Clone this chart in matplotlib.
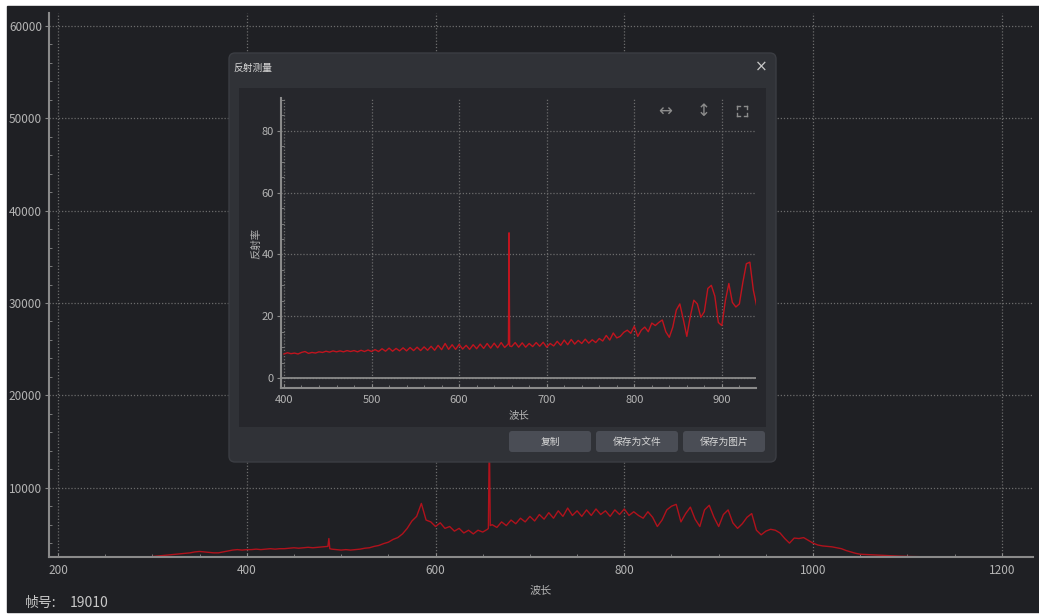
import numpy as np
import matplotlib
matplotlib.use("Agg")
import matplotlib.pyplot as plt
from matplotlib.patches import FancyBboxPatch, Rectangle
from matplotlib.ticker import MultipleLocator

plt.rcParams['font.family'] = ['Noto Sans CJK SC', 'DejaVu Sans']

# outer spectrum (counts), every 5 nm from 300 nm
outer_start = 300
outer_counts = [
    2550, 2600, 2650, 2700, 2750, 2800, 2850, 2900, 2950, 3050,   # 300-345
    3100, 3050, 3000, 2950, 2950, 3050, 3150, 3250, 3300, 3250,   # 350-395
    3300, 3300, 3350, 3300, 3350, 3400, 3350, 3400, 3400, 3450,   # 400-445
    3500, 3450, 3500, 3550, 3500, 3550, 3600, 3650, 3350, 3300,   # 450-495
    3250, 3300, 3250, 3300, 3350, 3450, 3500, 3650, 3750, 3950,   # 500-545
    4100, 4400, 4600, 5000, 5600, 6400, 6900, 8300, 6500, 6300,   # 550-595
    5800, 6200, 5600, 5800, 5300, 5600, 5100, 5400, 5000, 5400,   # 600-645
    5200, 5500, 6000, 5700, 6300, 5900, 6500, 6100, 6700, 6300,   # 650-695
    6900, 6400, 7100, 6600, 7300, 6700, 7500, 6900, 7800, 7000,   # 700-745
    7500, 6900, 7600, 7000, 7700, 7100, 7500, 6900, 7600, 7100,   # 750-795
    7700, 7000, 7400, 7000, 6700, 7400, 6800, 5800, 6500, 7600,   # 800-845
    8000, 8200, 6300, 7200, 7900, 6600, 5800, 7600, 8100, 6800,   # 850-895
    5800, 7100, 7600, 6200, 5600, 6100, 6800, 7200, 5400, 4900,   # 900-945
    5300, 5500, 5400, 5100, 4500, 4000, 4550, 4500, 4600, 4300,   # 950-995
    4000, 3800, 3700, 3650, 3600, 3500, 3400, 3200, 3050, 2900,   # 1000-1045
    2800, 2780, 2750, 2720, 2700, 2680, 2650, 2620, 2600, 2580,   # 1050-1095
    2560, 2550, 2540, 2530, 2520,                                 # 1100-1120
]
outer_peak_wl = [486, 487, 488, 656, 657, 658]
outer_peak_counts = [3650, 4500, 3400, 5600, 16000, 5900]

# reflectance, every 4 nm from 400 nm
refl_start = 400
refl_values = [
    7.8, 8.2, 7.9, 8.1, 7.8, 8.3, 8.6, 8.0, 8.3, 8.1,             # 400-436
    8.5, 8.3, 8.7, 8.4, 8.8, 8.5, 8.8, 8.5, 8.9, 8.6,             # 440-476
    8.9, 8.5, 9.0, 8.6, 9.1, 8.6, 9.2, 8.6, 9.5, 8.7,             # 480-516
    9.7, 8.7, 9.6, 8.8, 9.8, 8.8, 9.9, 8.9, 10.0, 8.9,            # 520-556
    10.1, 9.0, 10.3, 9.0, 10.6, 9.2, 11.2, 9.3, 10.8, 9.3,        # 560-596
    10.9, 9.4, 10.6, 9.3, 10.8, 9.5, 11.0, 9.6, 11.2, 9.7,        # 600-636
    11.3, 9.8, 11.5, 9.9, 11.0, 10.2, 11.5, 10.0, 11.4, 10.0,     # 640-676
    11.2, 10.2, 11.5, 10.3, 11.6, 10.0, 11.2, 10.4, 11.9, 10.6,   # 680-716
    12.3, 10.8, 12.5, 11.0, 12.2, 11.2, 12.6, 11.3, 12.4, 11.5,   # 720-756
    12.8, 12.0, 13.8, 12.3, 14.6, 13.0, 13.5, 14.8, 15.5, 14.5,   # 760-796
    16.8, 13.5, 15.5, 16.5, 15.0, 17.8, 17.0, 18.0, 18.8, 15.0,   # 800-836
    13.2, 16.5, 22.0, 24.0, 19.0, 13.5, 20.0, 25.2, 24.0, 19.7,   # 840-876
    21.5, 29.0, 30.0, 26.5, 18.0, 17.0, 25.0, 30.6, 24.5, 23.0,   # 880-916
    24.0, 31.0, 37.0, 37.5, 28.4, 23.0,                           # 920-940
]
refl_peak_wl = [656.3, 657.0, 657.7]
refl_peak_values = [11.0, 47.0, 10.4]

bg_dark = '#1f2024'
dialog_col = '#303237'
panel_col = '#26272c'
button_col = '#4a4d55'
text_col = '#b4b4b4'
axis_col = '#8a8a8a'
grid_col = '#6c6c6c'
red = '#b0121c'

outer_wl = outer_start + 5 * np.arange(len(outer_counts))
wl_all = np.concatenate([outer_wl, outer_peak_wl])
ct_all = np.concatenate([outer_counts, outer_peak_counts])
order = np.argsort(wl_all)
wl_all, ct_all = wl_all[order], ct_all[order]

refl_wl = refl_start + 4 * np.arange(len(refl_values))
rw_all = np.concatenate([refl_wl, refl_peak_wl])
rv_all = np.concatenate([refl_values, refl_peak_values])
order = np.argsort(rw_all)
rw_all, rv_all = rw_all[order], rv_all[order]

fig = plt.figure(figsize=(10.39, 6.15), dpi=100, facecolor='white')

# background window
ax_bg = fig.add_axes([0, 0, 1, 1], zorder=0)
ax_bg.set_xlim(0, 1039)
ax_bg.set_ylim(615, 0)
ax_bg.axis('off')
ax_bg.add_patch(Rectangle((7, 6), 1032, 606, color=bg_dark))


def style_axes(ax, fs):
    for s in ['top', 'right']:
        ax.spines[s].set_visible(False)
    for s in ['left', 'bottom']:
        ax.spines[s].set_color(axis_col)
        ax.spines[s].set_linewidth(1.5)
    ax.tick_params(which='both', colors=axis_col, labelcolor=text_col, labelsize=fs)
    ax.tick_params(axis='x', which='major', direction='in', length=3, pad=5)
    ax.tick_params(axis='x', which='minor', direction='in', length=2)
    ax.tick_params(axis='y', which='major', direction='out', length=3, pad=2)
    ax.tick_params(axis='y', which='minor', direction='in', length=2)
    ax.grid(True, which='major', color=grid_col, linestyle=(0, (1, 1.5)), linewidth=0.9)


# main spectrum chart
ax = fig.add_axes([49 / 1039, 1 - 557 / 615, 984 / 1039, 544 / 615], zorder=1)
ax.patch.set_alpha(0)
ax.plot(wl_all, ct_all, color=red, lw=1.0)
ax.set_xlim(190.5, 1233)
ax.set_ylim(2500, 61400)
ax.xaxis.set_major_locator(MultipleLocator(200))
ax.xaxis.set_minor_locator(MultipleLocator(50))
ax.yaxis.set_major_locator(MultipleLocator(10000))
ax.yaxis.set_minor_locator(MultipleLocator(2000))
style_axes(ax, 8.5)
ax.set_xlabel('波长', color=text_col, fontsize=8, labelpad=6)

# dialog and ui pieces, pixel coordinates
ui = fig.add_axes([0, 0, 1, 1], zorder=2)
ui.set_xlim(0, 1039)
ui.set_ylim(615, 0)
ui.axis('off')
ui.patch.set_alpha(0)
ui.add_patch(FancyBboxPatch((229, 53), 547, 409, boxstyle='round,pad=0,rounding_size=6',
                            facecolor=dialog_col, edgecolor='#3b3d43', lw=1))
ui.add_patch(Rectangle((239, 88), 527, 339, facecolor=panel_col, edgecolor='none'))
ui.text(233, 68, '反射测量', color='#d8d8d8', fontsize=7, va='center', ha='left')
ui.text(761, 67, '×', color='#c8c8c8', fontsize=11, va='center', ha='center',
        family=['DejaVu Sans'])

buttons = ['复制', '保存为文件', '保存为图片']
for i, lab in enumerate(buttons):
    x0 = 509 + i * 87
    ui.add_patch(FancyBboxPatch((x0, 431), 82, 21, boxstyle='round,pad=0,rounding_size=3',
                                facecolor=button_col, edgecolor='none'))
    ui.text(x0 + 41, 441.5, lab, color='#d8d8d8', fontsize=7, ha='center', va='center')

ui.text(25, 603, '帧号:', color='#c8c8c8', fontsize=10, va='center', ha='left')
ui.text(70, 603, '19010', color='#c8c8c8', fontsize=10, va='center', ha='left')

# reflectance chart
ax2 = fig.add_axes([281 / 1039, 1 - 388 / 615, 475 / 1039, 290 / 615], zorder=3)
ax2.patch.set_alpha(0)
ax2.plot(rw_all, rv_all, color='#c0141e', lw=1.0)
ax2.axhline(0, color=axis_col, lw=1.3)
ax2.set_xlim(396.6, 939)
ax2.set_ylim(-3.2, 90.6)
ax2.xaxis.set_major_locator(MultipleLocator(100))
ax2.xaxis.set_minor_locator(MultipleLocator(20))
ax2.yaxis.set_major_locator(MultipleLocator(20))
ax2.yaxis.set_minor_locator(MultipleLocator(5))
style_axes(ax2, 8)
ax2.set_xlabel('波长', color=text_col, fontsize=7.5, labelpad=4)
ax2.set_ylabel('反射率', color=text_col, fontsize=7.5, labelpad=0)

# toolbar icons on the reflectance chart
icon_col = '#8c8c8c'
ui.text(665, 112, '↔', color=icon_col, fontsize=12, ha='center', va='center',
        family=['DejaVu Sans'], zorder=5)
ui.text(704, 111, '↕', color=icon_col, fontsize=12, ha='center', va='center',
        family=['DejaVu Sans'], zorder=5)
cx, cy, r = 742, 111, 5
for sx in (-1, 1):
    for sy in (-1, 1):
        ui.plot([cx + sx * r, cx + sx * (r - 3)], [cy + sy * r, cy + sy * r],
                color=icon_col, lw=1, zorder=5)
        ui.plot([cx + sx * r, cx + sx * r], [cy + sy * r, cy + sy * (r - 3)],
                color=icon_col, lw=1, zorder=5)

fig.savefig('out.png', dpi=100, facecolor=fig.get_facecolor())
